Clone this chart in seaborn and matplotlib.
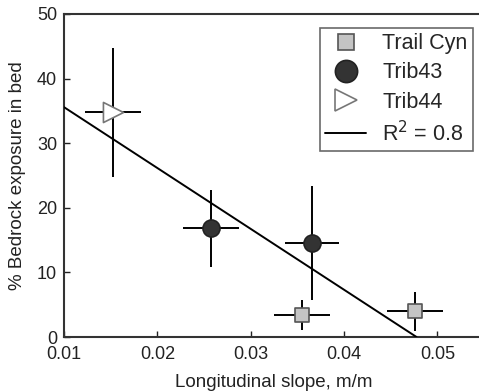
import matplotlib
matplotlib.use("Agg")
import matplotlib.pyplot as plt
from matplotlib.lines import Line2D
import numpy as np
import pandas as pd
import seaborn as sns

sns.set_style("ticks")
plt.rcParams["font.family"] = ["Liberation Sans", "DejaVu Sans"]

# Site measurements: slope (m/m), bedrock exposure (%), and uncertainties
trail_x = [0.0355, 0.0476]
trail_y = [3.4, 4.0]
trail_xerr = [0.003, 0.003]
trail_yerr = [2.3, 3.0]

trib43_x = [0.0258, 0.0366]
trib43_y = [16.8, 14.6]
trib43_xerr = [0.003, 0.0029]
trib43_yerr = [6.0, 8.8]

trib44_x = [0.0152]
trib44_y = [34.8]
trib44_xerr = [0.003]
trib44_yerr = [10.0]

# Linear fit: exposure = intercept + slope * S
fit_intercept = 45.0
fit_slope = -942.0
fit_x_range = [0.01, 0.04777]
fit_label = r"R$^2$ = 0.8"

groups = [
    ("Trail Cyn", trail_x, trail_y, trail_xerr, trail_yerr),
    ("Trib43", trib43_x, trib43_y, trib43_xerr, trib43_yerr),
    ("Trib44", trib44_x, trib44_y, trib44_xerr, trib44_yerr),
]
styles = {
    "Trail Cyn": dict(marker="s", s=100, color="#c4c4c4", edgecolor="#555555"),
    "Trib43": dict(marker="o", s=150, color="#333333", edgecolor="#222222"),
    "Trib44": dict(marker=">", s=210, color="white", edgecolor="#777777"),
}

fig = plt.figure(figsize=(4.79, 3.92), dpi=100)
ax = fig.add_axes([64 / 479, 55 / 392, 420 / 479, 323 / 392])

# error bars first so the markers sit on top
for name, xs, ys, xe, ye in groups:
    ax.errorbar(xs, ys, xerr=xe, yerr=ye, fmt="none", ecolor="black",
                elinewidth=1.4, capsize=0, zorder=2)

# regression line
fx = np.array(fit_x_range)
fit_df = pd.DataFrame({"x": fx, "y": fit_intercept + fit_slope * fx})
sns.lineplot(data=fit_df, x="x", y="y", color="black", linewidth=1.4,
             ax=ax, zorder=3, legend=False)

for name, xs, ys, xe, ye in groups:
    df = pd.DataFrame({"x": xs, "y": ys})
    st = styles[name]
    sns.scatterplot(data=df, x="x", y="y", marker=st["marker"], s=st["s"],
                    color=st["color"], edgecolor=st["edgecolor"],
                    linewidth=1.2, ax=ax, zorder=4, legend=False)

ax.set_xlim(0.01, 0.055)
ax.set_ylim(0, 50)
ax.set_xticks([0.01, 0.02, 0.03, 0.04, 0.05])
ax.set_xticklabels(["0.01", "0.02", "0.03", "0.04", "0.05"])
ax.set_yticks([0, 10, 20, 30, 40, 50])
ax.tick_params(direction="in", length=4, width=1.0, labelsize=13,
               colors="#222222")
ax.tick_params(axis="y", pad=5)
ax.tick_params(axis="x", pad=6.5)
for sp in ax.spines.values():
    sp.set_color("#333333")
    sp.set_linewidth(1.5)
ax.spines["right"].set_visible(False)

ax.set_xlabel("Longitudinal slope, m/m", fontsize=13.5, color="#222222", labelpad=8)
ax.set_ylabel("% Bedrock exposure in bed", fontsize=13.5, color="#222222", labelpad=8)

handles = [
    Line2D([], [], linestyle="none", marker="s", markersize=11,
           markerfacecolor="#c4c4c4", markeredgecolor="#555555", markeredgewidth=1.2),
    Line2D([], [], linestyle="none", marker="o", markersize=16,
           markerfacecolor="#333333", markeredgecolor="#222222", markeredgewidth=1.2),
    Line2D([], [], linestyle="none", marker=">", markersize=16,
           markerfacecolor="white", markeredgecolor="#777777", markeredgewidth=1.2),
    Line2D([], [], color="black", linewidth=1.4),
]
labels = ["Trail Cyn", "Trib43", "Trib44", fit_label]
leg = ax.legend(handles, labels, loc="upper right", bbox_to_anchor=(0.974, 0.957),
                fontsize=15.5, frameon=True, fancybox=False, handlelength=1.9,
                handletextpad=0.75, borderpad=0.25, borderaxespad=0,
                labelspacing=0.38)
leg.get_frame().set_edgecolor("#444444")
leg.get_frame().set_linewidth(1.2)

fig.savefig("out.png", dpi=100, facecolor="white")
